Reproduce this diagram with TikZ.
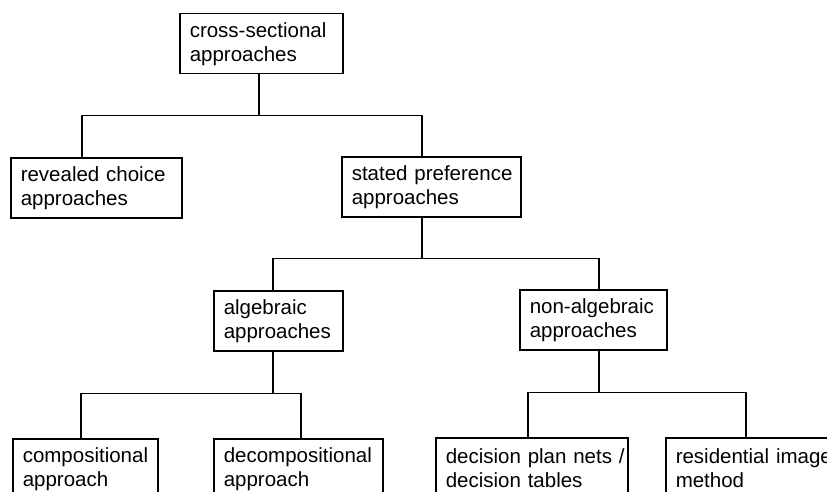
\documentclass[tikz,border=0pt]{standalone}
\usepackage{fontspec}
\setmainfont{Liberation Sans}
\usepackage{tikz}
\newcommand{\boxfont}{\fontsize{20.5}{24}\selectfont}
\newcommand{\two}[2]{\mbox{#1}\\\mbox{#2}}

\begin{document}
\begin{tikzpicture}[x=1pt,y=-1pt,
  box/.style={draw,line width=1.5pt,anchor=north west,inner xsep=10pt,
    inner ysep=0pt,minimum height=60pt,align=left,font=\boxfont},
  link/.style={line width=1.5pt}]
\useasboundingbox (0,0) rectangle (827,492);
\clip (0,0) rectangle (827,492);
%upper levels
\node[box,text width=143pt] (cross)  at (179, 13) {\two{cross-sectional}{approaches}};
\node[box,text width=151pt] (rev)    at ( 10,157) {\two{revealed choice}{approaches}};
\node[box,text width=159pt] (stated) at (341,156) {\two{stated preference}{approaches}};
\node[box,text width=109pt] (alg)    at (213,290) {\two{algebraic}{approaches}};
\node[box,text width=127pt] (nonalg) at (519,289) {\two{non-algebraic}{approaches}};
%lowest level
\node[box,text width=125pt] (comp)   at ( 12,438) {\two{compositional}{approach}};
\node[box,text width=149pt] (decomp) at (213,438) {\two{decompositional}{approach}};
\node[box,text width=172pt] (dec)    at (435,437) {\two{decision plan nets /}{decision tables}};
\node[box,text width=180pt] (res)    at (665,437) {\two{residential image}{method}};
%connectors
\draw[link] (cross.south -| 259,0) -- ++(0,41) coordinate (b1);
\draw[link] (rev.north -| 82,0) |- (b1) -| (stated.north -| 422,0);
\draw[link] (stated.south -| 422,0) -- ++(0,41) coordinate (b2);
\draw[link] (alg.north -| 273,0) |- (b2) -| (nonalg.north -| 599,0);
\draw[link] (alg.south -| 273,0) -- ++(0,42) coordinate (b3);
\draw[link] (comp.north -| 81,0) |- (b3) -| (decomp.north -| 301,0);
\draw[link] (nonalg.south -| 599,0) -- ++(0,42) coordinate (b4);
\draw[link] (dec.north -| 528,0) |- (b4) -| (res.north -| 746,0);
\end{tikzpicture}
\end{document}
